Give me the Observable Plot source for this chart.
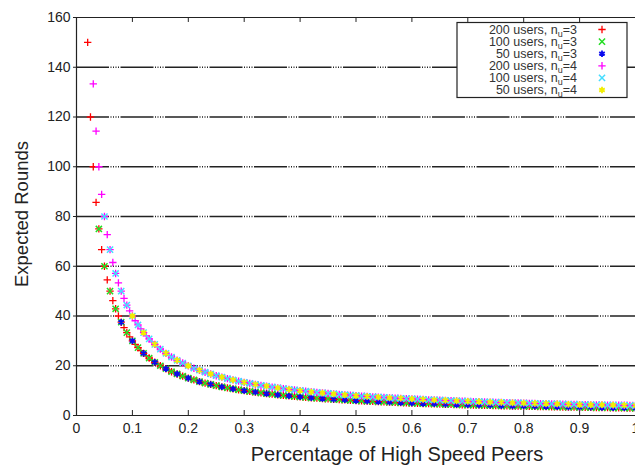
<!DOCTYPE html>
<html><head><meta charset="utf-8">
<script src="https://cdn.jsdelivr.net/npm/d3@7"></script>
<script src="https://cdn.jsdelivr.net/npm/@observablehq/plot@0.6"></script>
<style>body{margin:0;background:#fff}</style>
</head><body><div id="chart"></div>
<script>
// Share of high speed peers (x values) for each population size
const pct200 = [0.02,0.025,0.03,0.035,0.04,0.045,0.05,0.055,0.06,0.065,
0.07,0.075,0.08,0.085,0.09,0.095,0.1,0.105,0.11,0.115,
0.12,0.125,0.13,0.135,0.14,0.145,0.15,0.155,0.16,0.165,
0.17,0.175,0.18,0.185,0.19,0.195,0.2,0.205,0.21,0.215,
0.22,0.225,0.23,0.235,0.24,0.245,0.25,0.255,0.26,0.265,
0.27,0.275,0.28,0.285,0.29,0.295,0.3,0.305,0.31,0.315,
0.32,0.325,0.33,0.335,0.34,0.345,0.35,0.355,0.36,0.365,
0.37,0.375,0.38,0.385,0.39,0.395,0.4,0.405,0.41,0.415,
0.42,0.425,0.43,0.435,0.44,0.445,0.45,0.455,0.46,0.465,
0.47,0.475,0.48,0.485,0.49,0.495,0.5,0.505,0.51,0.515,
0.52,0.525,0.53,0.535,0.54,0.545,0.55,0.555,0.56,0.565,
0.57,0.575,0.58,0.585,0.59,0.595,0.6,0.605,0.61,0.615,
0.62,0.625,0.63,0.635,0.64,0.645,0.65,0.655,0.66,0.665,
0.67,0.675,0.68,0.685,0.69,0.695,0.7,0.705,0.71,0.715,
0.72,0.725,0.73,0.735,0.74,0.745,0.75,0.755,0.76,0.765,
0.77,0.775,0.78,0.785,0.79,0.795,0.8,0.805,0.81,0.815,
0.82,0.825,0.83,0.835,0.84,0.845,0.85,0.855,0.86,0.865,
0.87,0.875,0.88,0.885,0.89,0.895,0.9,0.905,0.91,0.915,
0.92,0.925,0.93,0.935,0.94,0.945,0.95,0.955,0.96,0.965,
0.97,0.975,0.98,0.985,0.99,0.995,1];
const pct100 = [0.04,0.05,0.06,0.07,0.08,0.09,
0.1,0.11,0.12,0.13,0.14,0.15,0.16,0.17,0.18,0.19,
0.2,0.21,0.22,0.23,0.24,0.25,0.26,0.27,0.28,0.29,
0.3,0.31,0.32,0.33,0.34,0.35,0.36,0.37,0.38,0.39,
0.4,0.41,0.42,0.43,0.44,0.45,0.46,0.47,0.48,0.49,
0.5,0.51,0.52,0.53,0.54,0.55,0.56,0.57,0.58,0.59,
0.6,0.61,0.62,0.63,0.64,0.65,0.66,0.67,0.68,0.69,
0.7,0.71,0.72,0.73,0.74,0.75,0.76,0.77,0.78,0.79,
0.8,0.81,0.82,0.83,0.84,0.85,0.86,0.87,0.88,0.89,
0.9,0.91,0.92,0.93,0.94,0.95,0.96,0.97,0.98,0.99,1];
const pct50 = [0.08,0.1,0.12,0.14,0.16,0.18,0.2,0.22,0.24,0.26,0.28,
0.3,0.32,0.34,0.36,0.38,0.4,0.42,0.44,0.46,0.48,
0.5,0.52,0.54,0.56,0.58,0.6,0.62,0.64,0.66,0.68,
0.7,0.72,0.74,0.76,0.78,0.8,0.82,0.84,0.86,0.88,
0.9,0.92,0.94,0.96,0.98,1];

// Expected rounds per series
const rounds200u3 = [150,120,100,85.7,75,66.7,60,54.5,50,46.2,
42.9,40,37.5,35.3,33.3,31.6,30,28.6,27.3,26.1,
25,24,23.1,22.2,21.4,20.7,20,19.4,18.8,18.2,
17.6,17.1,16.7,16.2,15.8,15.4,15,14.6,14.3,14,
13.6,13.3,13,12.8,12.5,12.2,12,11.8,11.5,11.3,
11.1,10.9,10.7,10.5,10.3,10.2,10,9.8,9.7,9.5,
9.4,9.2,9.1,9,8.8,8.7,8.6,8.5,8.3,8.2,
8.1,8,7.9,7.8,7.7,7.6,7.5,7.4,7.3,7.2,
7.1,7.1,7,6.9,6.8,6.7,6.7,6.6,6.5,6.5,
6.4,6.3,6.3,6.2,6.1,6.1,6,5.9,5.9,5.8,
5.8,5.7,5.7,5.6,5.6,5.5,5.5,5.4,5.4,5.3,
5.3,5.2,5.2,5.1,5.1,5,5,5,4.9,4.9,
4.8,4.8,4.8,4.7,4.7,4.7,4.6,4.6,4.5,4.5,
4.5,4.4,4.4,4.4,4.3,4.3,4.3,4.3,4.2,4.2,
4.2,4.1,4.1,4.1,4.1,4,4,4,3.9,3.9,
3.9,3.9,3.8,3.8,3.8,3.8,3.8,3.7,3.7,3.7,
3.7,3.6,3.6,3.6,3.6,3.6,3.5,3.5,3.5,3.5,
3.4,3.4,3.4,3.4,3.4,3.4,3.3,3.3,3.3,3.3,
3.3,3.2,3.2,3.2,3.2,3.2,3.2,3.1,3.1,3.1,
3.1,3.1,3.1,3,3,3,3];
const rounds100u3 = [75,60,50,42.9,37.5,33.3,30,27.3,25,23.1,
21.4,20,18.8,17.6,16.7,15.8,15,14.3,13.6,13,
12.5,12,11.5,11.1,10.7,10.3,10,9.7,9.4,9.1,
8.8,8.6,8.3,8.1,7.9,7.7,7.5,7.3,7.1,7,
6.8,6.7,6.5,6.4,6.3,6.1,6,5.9,5.8,5.7,
5.6,5.5,5.4,5.3,5.2,5.1,5,4.9,4.8,4.8,
4.7,4.6,4.5,4.5,4.4,4.3,4.3,4.2,4.2,4.1,
4.1,4,3.9,3.9,3.8,3.8,3.8,3.7,3.7,3.6,
3.6,3.5,3.5,3.4,3.4,3.4,3.3,3.3,3.3,3.2,
3.2,3.2,3.1,3.1,3.1,3,3];
const rounds50u3 = [37.5,30,25,21.4,18.8,16.7,15,13.6,12.5,11.5,
10.7,10,9.4,8.8,8.3,7.9,7.5,7.1,6.8,6.5,
6.3,6,5.8,5.6,5.4,5.2,5,4.8,4.7,4.5,
4.4,4.3,4.2,4.1,3.9,3.8,3.8,3.7,3.6,3.5,
3.4,3.3,3.3,3.2,3.1,3.1,3];
const rounds200u4 = [133.3,114.3,100,88.9,80,72.7,66.7,61.5,57.1,53.3,
50,47.1,44.4,42.1,40,38.1,36.4,34.8,33.3,32,
30.8,29.6,28.6,27.6,26.7,25.8,25,24.2,23.5,22.9,
22.2,21.6,21.1,20.5,20,19.5,19,18.6,18.2,17.8,
17.4,17,16.7,16.3,16,15.7,15.4,15.1,14.8,14.5,
14.3,14,13.8,13.6,13.3,13.1,12.9,12.7,12.5,12.3,
12.1,11.9,11.8,11.6,11.4,11.3,11.1,11,10.8,10.7,
10.5,10.4,10.3,10.1,10,9.9,9.8,9.6,9.5,9.4,
9.3,9.2,9.1,9,8.9,8.8,8.7,8.6,8.5,8.4,
8.3,8.2,8.2,8.1,8,7.9,7.8,7.8,7.7,7.6,
7.5,7.5,7.4,7.3,7.3,7.2,7.1,7.1,7,7,
6.9,6.8,6.8,6.7,6.7,6.6,6.6,6.5,6.5,6.4,
6.3,6.3,6.3,6.2,6.2,6.1,6.1,6,6,5.9,
5.9,5.8,5.8,5.8,5.7,5.7,5.6,5.6,5.6,5.5,
5.5,5.4,5.4,5.4,5.3,5.3,5.3,5.2,5.2,5.2,
5.1,5.1,5.1,5,5,5,4.9,4.9,4.9,4.8,
4.8,4.8,4.8,4.7,4.7,4.7,4.7,4.6,4.6,4.6,
4.5,4.5,4.5,4.5,4.4,4.4,4.4,4.4,4.3,4.3,
4.3,4.3,4.3,4.2,4.2,4.2,4.2,4.1,4.1,4.1,
4.1,4.1,4,4,4];
const rounds100u4 = [80,66.7,57.1,50,44.4,40,36.4,33.3,30.8,28.6,
26.7,25,23.5,22.2,21.1,20,19,18.2,17.4,16.7,
16,15.4,14.8,14.3,13.8,13.3,12.9,12.5,12.1,11.8,
11.4,11.1,10.8,10.5,10.3,10,9.8,9.5,9.3,9.1,
8.9,8.7,8.5,8.3,8.2,8,7.8,7.7,7.5,7.4,
7.3,7.1,7,6.9,6.8,6.7,6.6,6.5,6.3,6.3,
6.2,6.1,6,5.9,5.8,5.7,5.6,5.6,5.5,5.4,
5.3,5.3,5.2,5.1,5.1,5,4.9,4.9,4.8,4.8,
4.7,4.7,4.6,4.5,4.5,4.4,4.4,4.3,4.3,4.3,
4.2,4.2,4.1,4.1,4,4];
const rounds50u4 = [40,33.3,28.6,25,22.2,20,18.2,16.7,15.4,14.3,
13.3,12.5,11.8,11.1,10.5,10,9.5,9.1,8.7,8.3,
8,7.7,7.4,7.1,6.9,6.7,6.5,6.3,6.1,5.9,
5.7,5.6,5.4,5.3,5.1,5,4.9,4.8,4.7,4.5,
4.4,4.3,4.3,4.2,4.1,4];

const seriesUsers = [200, 100, 50, 200, 100, 50];
const seriesNu = [3, 3, 3, 4, 4, 4];
const seriesColors = ["#ff0000", "#22dd22", "#0a0aee", "#ff00ff", "#44ddff", "#f2ee00"];
const seriesSymbols = ["plus", "times", "asterisk", "plus", "times", "asterisk"];
const xTicks = [0, 0.1, 0.2, 0.3, 0.4, 0.5, 0.6, 0.7, 0.8, 0.9, 1];
const yTicks = [0, 20, 40, 60, 80, 100, 120, 140, 160];
const xLabel = "Percentage of High Speed Peers";
const yLabel = "Expected Rounds";

const seriesX = [pct200, pct100, pct50, pct200.slice(2), pct100.slice(1), pct50.slice(1)];
const seriesY = [rounds200u3, rounds100u3, rounds50u3, rounds200u4, rounds100u4, rounds50u4];
const symbolR = {plus: 2.5, times: 2.9, asterisk: 3.0};
const symbolW = {plus: 1.3, times: 1.5, asterisk: 1.8};

const font = "'Liberation Sans', Arial, Helvetica, sans-serif";

const dotMarks = seriesY.map((ys, s) => {
  const rows = ys.map((y, i) => ({x: seriesX[s][i], y}));
  return Plot.dot(rows, {x: "x", y: "y", symbol: () => seriesSymbols[s],
    r: symbolR[seriesSymbols[s]], stroke: seriesColors[s], strokeWidth: symbolW[seriesSymbols[s]]});
});

const chart = Plot.plot({
  width: 635, height: 466,
  marginLeft: 76, marginRight: 0, marginTop: 17, marginBottom: 51,
  style: {fontFamily: font, background: "white", color: "#222"},
  x: {domain: [0, 1]},
  y: {domain: [0, 160]},
  symbol: {type: "identity"},
  marks: [
    Plot.ruleY(yTicks.filter(v => v > 0 && v < 160), {stroke: "#222", strokeWidth: 1.3,
      strokeDasharray: "33,1.5,1,1.5,1,1.5,1,1.5,1,1.5"}),
    Plot.ruleX(xTicks, {y1: 0, y2: 2, stroke: "#222", strokeWidth: 1}),
    Plot.ruleX(xTicks, {y1: 158, y2: 160, stroke: "#222", strokeWidth: 1}),
    ...dotMarks,
    Plot.ruleY([0, 160], {stroke: "#222", strokeWidth: 1.2}),
    Plot.ruleX([0], {stroke: "#222", strokeWidth: 1.2}),
    Plot.axisX({ticks: xTicks, tickSize: 0, tickPadding: 8, tickFormat: "~g",
      fontSize: 14, label: null, fill: "#222"}),
    Plot.axisY({ticks: yTicks, tickSize: 3, tickPadding: 3, fontSize: 14,
      label: null, fill: "#222", stroke: "#222"})
  ]
});
document.getElementById("chart").appendChild(chart);

const svg = d3.select(chart);
svg.append("text").attr("x", 397).attr("y", 461).attr("text-anchor", "middle")
  .attr("font-family", font).attr("font-size", 20).attr("fill", "#222").text(xLabel);
svg.append("text").attr("transform", "translate(28,214) rotate(-90)").attr("text-anchor", "middle")
  .attr("font-family", font).attr("font-size", 18.5).attr("fill", "#222").text(yLabel);

const lg = svg.append("g");
lg.append("rect").attr("x", 457).attr("y", 22.5).attr("width", 170).attr("height", 75)
  .attr("fill", "white").attr("stroke", "#222").attr("stroke-width", 1.2);
const d3sym = {plus: d3.symbolPlus, times: d3.symbolTimes, asterisk: d3.symbolAsterisk};
seriesUsers.forEach((u, i) => {
  const yc = 29.5 + i * 12.1;
  const t = lg.append("text").attr("x", 577).attr("y", yc + 4.3).attr("text-anchor", "end")
    .attr("font-family", font).attr("font-size", 12.5).attr("fill", "#333");
  t.append("tspan").text(`${u} users, n`);
  t.append("tspan").attr("dy", 3).attr("font-size", 9).text("u");
  t.append("tspan").attr("dy", -3).text(`=${seriesNu[i]}`);
  const sym = seriesSymbols[i];
  const r = symbolR[sym];
  lg.append("path").attr("transform", `translate(602,${yc})`)
    .attr("d", d3.symbol(d3sym[sym], Math.PI * r * r)())
    .attr("fill", "none").attr("stroke", seriesColors[i]).attr("stroke-width", symbolW[sym]);
});
</script>
</body></html>
